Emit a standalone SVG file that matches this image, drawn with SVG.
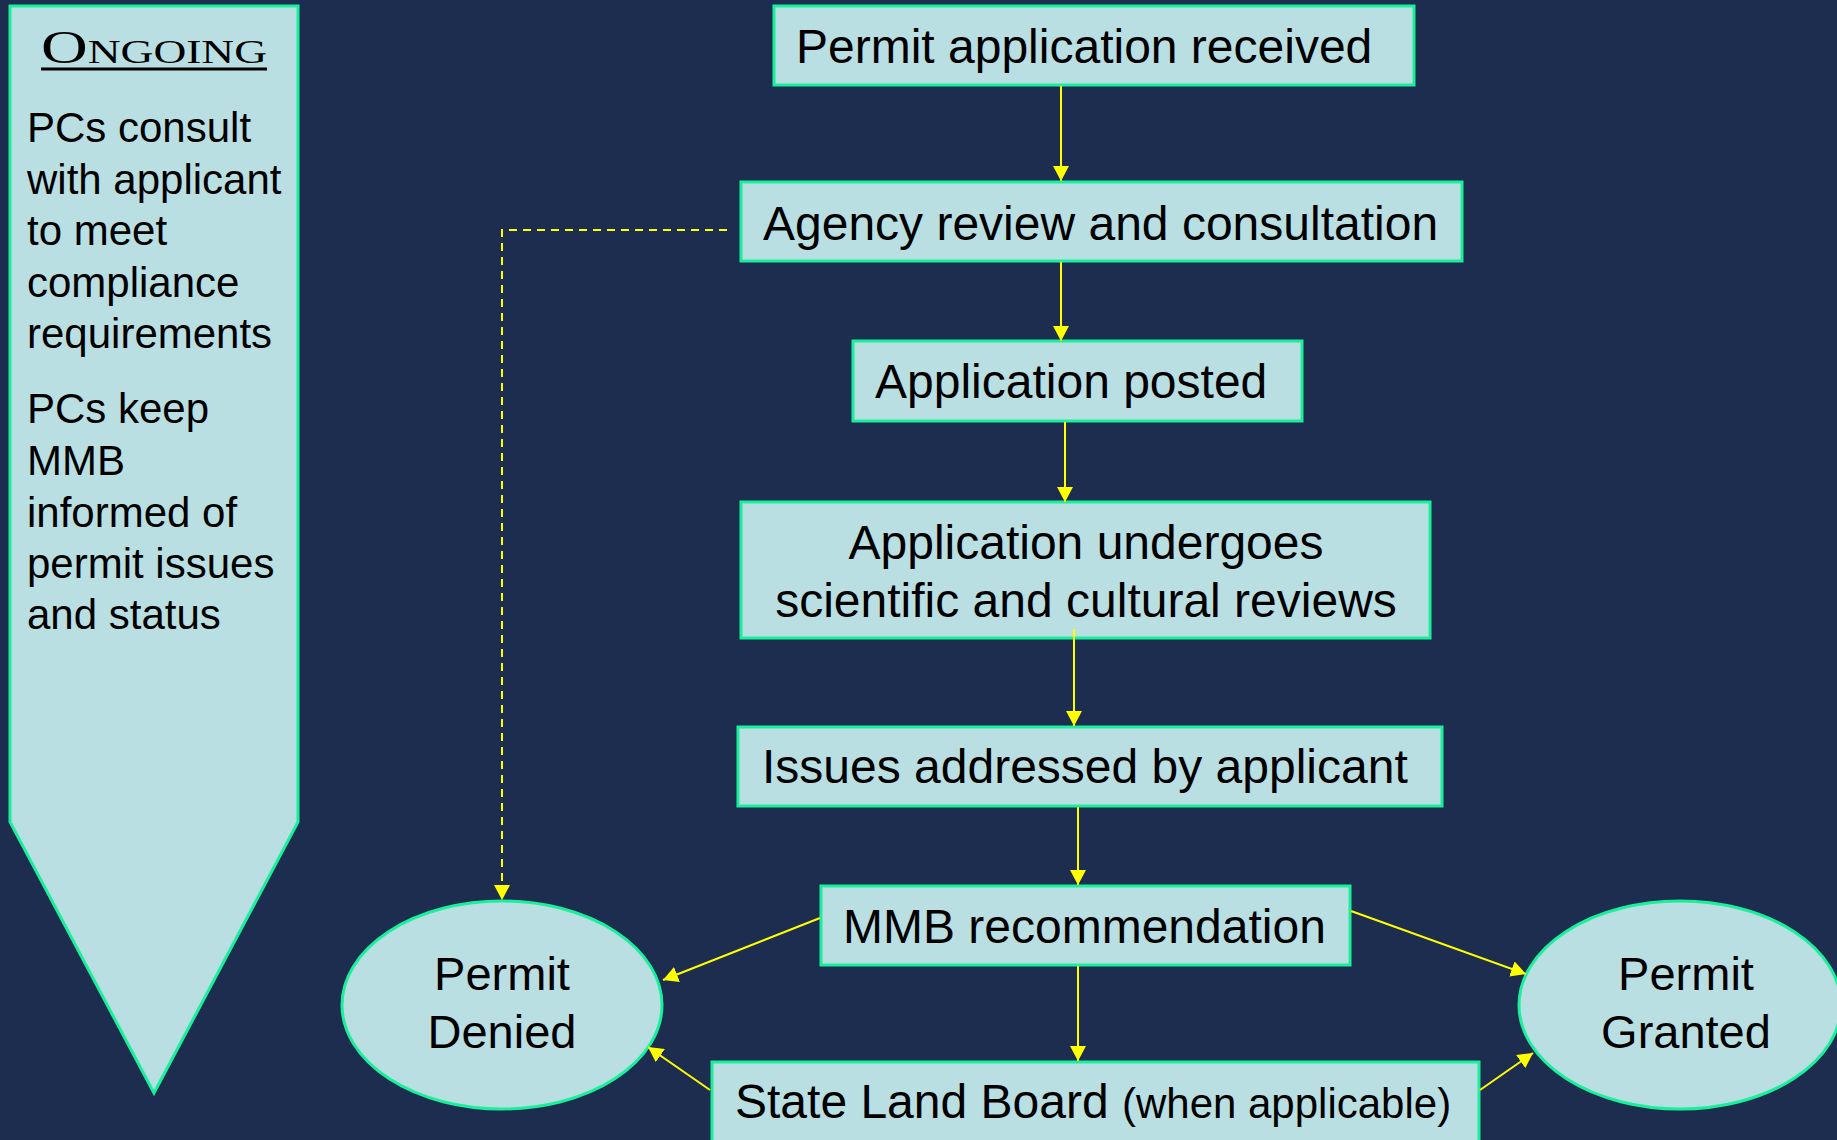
<svg xmlns="http://www.w3.org/2000/svg" width="1837" height="1140" viewBox="0 0 1837 1140">
<style>
.bg{fill:#1d2d4f}
.node{fill:#b9dfe3;stroke:#1af09c;stroke-width:3}
.t{font-family:"Liberation Sans",Arial,sans-serif;font-size:48px;fill:#000}
.e{font-family:"Liberation Sans",Arial,sans-serif;font-size:47px;fill:#000}
.p{font-family:"Liberation Sans",Arial,sans-serif;font-size:42px;fill:#000}
.c{stroke:#ffff00;stroke-width:2;fill:none}
.d{stroke:#ffff00;stroke-width:2;fill:none;stroke-dasharray:8 6}
</style>
<defs>
<marker id="ah" markerUnits="userSpaceOnUse" markerWidth="15" markerHeight="16" refX="15" refY="8" orient="auto">
<path d="M0,0 L15,8 L0,16 z" fill="#ffff00"/>
</marker>
</defs>
<rect class="bg" x="0" y="0" width="1837" height="1140"/>
<g id="ongoing">
<polygon class="node" points="10,6 298,6 298,822 154,1093 10,822"/>
<text x="41" y="63" font-family="Liberation Serif,Times New Roman,serif" font-size="47" font-variant="small-caps" textLength="226" lengthAdjust="spacingAndGlyphs">Ongoing</text>
<line x1="41" y1="69" x2="267" y2="69" stroke="#000" stroke-width="3"/>
<text class="p" x="27" y="142">PCs consult</text>
<text class="p" x="27" y="193.5">with applicant</text>
<text class="p" x="27" y="245">to meet</text>
<text class="p" x="27" y="296.5">compliance</text>
<text class="p" x="27" y="348">requirements</text>
<text class="p" x="27" y="423">PCs keep</text>
<text class="p" x="27" y="475">MMB</text>
<text class="p" x="27" y="527">informed of</text>
<text class="p" x="27" y="578">permit issues</text>
<text class="p" x="27" y="629">and status</text>
</g>
<g id="received">
<rect class="node" x="774" y="6" width="640" height="79"/>
<text class="t" x="796" y="63">Permit application received</text>
</g>
<g id="agency">
<rect class="node" x="741" y="182" width="721" height="79"/>
<text class="t" x="763" y="240">Agency review and consultation</text>
</g>
<g id="posted">
<rect class="node" x="853" y="341" width="449" height="80"/>
<text class="t" x="875" y="398">Application posted</text>
</g>
<g id="reviews">
<rect class="node" x="741" y="502" width="689" height="136"/>
<text class="t" x="1086" y="559" text-anchor="middle">Application undergoes</text>
<text class="t" x="1086" y="617" text-anchor="middle">scientific and cultural reviews</text>
</g>
<g id="issues">
<rect class="node" x="738" y="727" width="704" height="79"/>
<text class="t" x="762" y="783">Issues addressed by applicant</text>
</g>
<g id="mmb">
<rect class="node" x="821" y="886" width="529" height="79"/>
<text class="t" x="843" y="943">MMB recommendation</text>
</g>
<g id="landboard">
<rect class="node" x="712" y="1062" width="767" height="100"/>
<text class="t" x="735" y="1118">State Land Board <tspan font-size="42">(when applicable)</tspan></text>
</g>
<g id="denied">
<ellipse class="node" cx="502" cy="1005" rx="160" ry="104"/>
<text class="e" x="502" y="990" text-anchor="middle">Permit</text>
<text class="e" x="502" y="1048" text-anchor="middle">Denied</text>
</g>
<g id="granted">
<ellipse class="node" cx="1680" cy="1005" rx="161" ry="104"/>
<text class="e" x="1686" y="990" text-anchor="middle">Permit</text>
<text class="e" x="1686" y="1048" text-anchor="middle">Granted</text>
</g>
<g id="connectors">
<line class="c" x1="1061" y1="86" x2="1061" y2="181" marker-end="url(#ah)"/>
<line class="c" x1="1061" y1="262" x2="1061" y2="341" marker-end="url(#ah)"/>
<line class="c" x1="1065" y1="422" x2="1065" y2="502" marker-end="url(#ah)"/>
<line class="c" x1="1074" y1="629" x2="1074" y2="726" marker-end="url(#ah)"/>
<line class="c" x1="1078" y1="807" x2="1078" y2="885" marker-end="url(#ah)"/>
<line class="c" x1="1078" y1="966" x2="1078" y2="1061" marker-end="url(#ah)"/>
<polyline class="d" points="727,230 502,230 502,900" marker-end="url(#ah)"/>
<line class="c" x1="820" y1="918" x2="663" y2="980" marker-end="url(#ah)"/>
<line class="c" x1="710" y1="1090" x2="648" y2="1047" marker-end="url(#ah)"/>
<line class="c" x1="1351" y1="911" x2="1526" y2="974" marker-end="url(#ah)"/>
<line class="c" x1="1480" y1="1090" x2="1533" y2="1053" marker-end="url(#ah)"/>
</g>
</svg>
